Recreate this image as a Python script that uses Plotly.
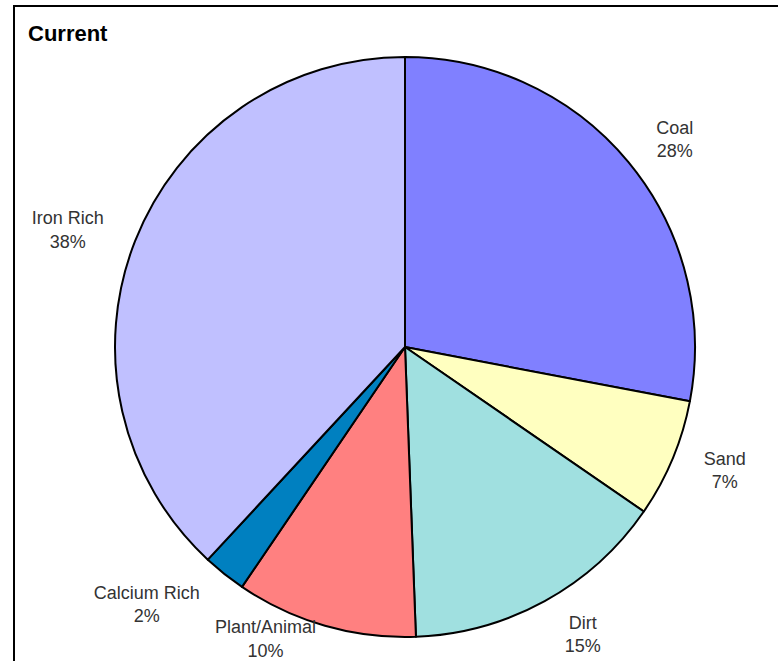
import plotly.graph_objects as go

categories = ["Coal", "Sand", "Dirt", "Plant/Animal", "Calcium Rich", "Iron Rich"]
values = [28.0, 6.6, 14.8, 10.1, 2.4, 38.1]
colors = ["#8080FF", "#FFFFC0", "#A0E0E0", "#FF8080", "#0080C0", "#C0C0FF"]

W, H = 778, 661
cx, cy = 405, 347          # pie centre (px from top-left)
r_pie = 290                # visible pie radius
label_r = [312, 312, 309, 283, 312, 312]   # how far out each label sits (px)
TEMPLATE = "%{label}<br>%{percent:.0%}"
FONT = dict(family="Liberation Sans, Arial", size=18, color="#333333")


def dom(r):
    return dict(x=[(cx - r) / W, (cx + r) / W], y=[(H - cy - r) / H, (H - cy + r) / H])


fig = go.Figure()

# the visible pie (drawn first so the labels sit on top of it)
fig.add_trace(go.Pie(
    labels=categories, values=values, sort=False, direction="clockwise", rotation=0,
    domain=dom(r_pie),
    marker=dict(colors=colors, line=dict(color="black", width=2)),
    textinfo="none",
    showlegend=False, hoverinfo="label+percent", automargin=False,
))

# transparent rings that only carry the outside labels (one ring per label group,
# so that the labels of different groups are not pushed apart by plotly)
groups = [[i for i in range(len(categories)) if i != 3], [3]]
for grp in groups:
    base = min(label_r[i] for i in grp)
    pulls = [(label_r[i] / base - 1) if i in grp else 0 for i in range(len(categories))]
    outer = base * (1 + max(pulls))
    fig.add_trace(go.Pie(
        labels=categories, values=values, sort=False, direction="clockwise", rotation=0,
        domain=dom(outer), pull=pulls,
        marker=dict(colors=["rgba(0,0,0,0)"] * len(values), line=dict(width=0)),
        textposition="outside",
        texttemplate=[TEMPLATE if i in grp else "" for i in range(len(categories))],
        textfont=FONT,
        showlegend=False, hoverinfo="skip", automargin=False,
    ))

fig.update_layout(
    width=W, height=H,
    autosize=False,
    margin=dict(l=0, r=0, t=0, b=0, pad=0, autoexpand=False),
    paper_bgcolor="white",
    plot_bgcolor="white",
    title=dict(text="<b>Current</b>", x=28 / W, xanchor="left", y=1 - 33 / H, yanchor="middle",
               font=dict(family="Liberation Sans, Arial", size=22, color="black")),
    shapes=[dict(type="path", xref="paper", yref="paper",
                 path=f"M {14 / W},0 L {14 / W},{(H - 6) / H} L 1,{(H - 6) / H}",
                 line=dict(color="black", width=2), layer="below")],
)

fig.write_html("out.html")
